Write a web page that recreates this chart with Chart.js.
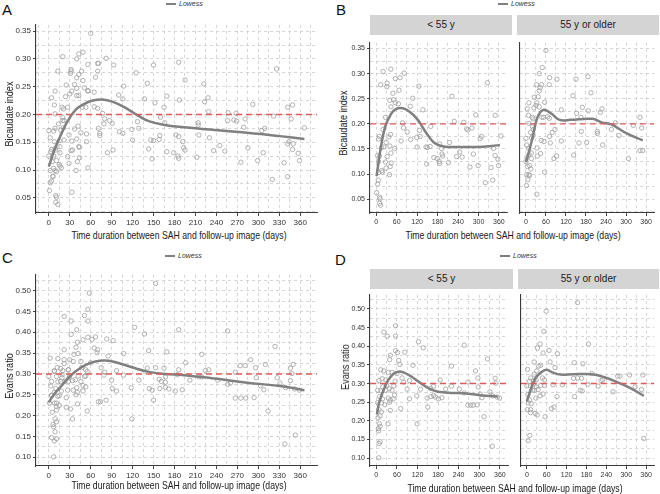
<!DOCTYPE html>
<html>
<head>
<meta charset="utf-8">
<script src="https://cdn.jsdelivr.net/npm/chart.js@4.4.0/dist/chart.umd.min.js"></script>
<style>
body { margin: 0; background: #fff; }
#fig { position: relative; width: 660px; height: 494px; overflow: hidden; font-family: "Liberation Sans", Arial, sans-serif; }
#fig canvas { position: absolute; }
.letter { position: absolute; font-size: 15px; line-height: 14px; color: #111; }
.legend { position: absolute; font-size: 7px; line-height: 8px; font-style: italic; color: #333; white-space: nowrap; }
.legend b { display: inline-block; width: 10px; height: 2px; background: #808080; vertical-align: middle; margin-right: 3px; }
.strip { position: absolute; height: 20px; line-height: 20px; background: #d4d4d4; color: #1a1a1a; font-size: 10px; text-align: center; }
.ttl { position: absolute; font-size: 11px; line-height: 12px; color: #1a1a1a; white-space: nowrap; }
</style>
</head>
<body>
<div id="fig">
  <div class="letter" style="left:2px;top:3px">A</div>
  <div class="letter" style="left:336px;top:3px">B</div>
  <div class="letter" style="left:2px;top:251px">C</div>
  <div class="letter" style="left:335px;top:253px">D</div>

  <div class="legend" style="left:166px;top:0px"><b></b>Lowess</div>
  <div class="legend" style="left:498px;top:0px"><b></b>Lowess</div>
  <div class="legend" style="left:165px;top:252px"><b></b>Lowess</div>
  <div class="legend" style="left:500px;top:252px"><b></b>Lowess</div>

  <div class="strip" style="left:370px;top:15px;width:142px">&lt; 55 y</div>
  <div class="strip" style="left:517px;top:15px;width:142px">55 y or older</div>
  <div class="strip" style="left:370px;top:269px;width:143px">&lt; 55 y</div>
  <div class="strip" style="left:518px;top:269px;width:141px">55 y or older</div>

  <canvas id="chartA"></canvas>
  <canvas id="chartB1"></canvas>
  <canvas id="chartB2"></canvas>
  <canvas id="chartC"></canvas>
  <canvas id="chartD1"></canvas>
  <canvas id="chartD2"></canvas>

  <div class="ttl" id="xA">Time duration between SAH and follow-up image (days)</div>
  <div class="ttl" id="xB">Time duration between SAH and follow-up image (days)</div>
  <div class="ttl" id="xC">Time duration between SAH and follow-up image (days)</div>
  <div class="ttl" id="xD">Time duration between SAH and follow-up image (days)</div>
  <div class="ttl" id="yA">Bicaudate index</div>
  <div class="ttl" id="yB">Bicaudate index</div>
  <div class="ttl" id="yC">Evans ratio</div>
  <div class="ttl" id="yD">Evans ratio</div>
</div>

<script>
// reference lines and axis ticks
var bicaudateRef = 0.2;
var evansRef = 0.3;
var dayRange = [-18.3, 384.3];
var bicaudateRange = [0.0226, 0.3614];
var evansRange = [0.079, 0.538];

var daysMajor = [0, 30, 60, 90, 120, 150, 180, 210, 240, 270, 300, 330, 360];
var daysMinor = [-15, 15, 45, 75, 105, 135, 165, 195, 225, 255, 285, 315, 345, 375];
var daysMajorFacet = [0, 60, 120, 180, 240, 300, 360];
var daysMinorFacet = [30, 90, 150, 210, 270, 330];
var bicaudateMajor = [0.05, 0.10, 0.15, 0.20, 0.25, 0.30, 0.35];
var bicaudateMinor = [0.025, 0.075, 0.125, 0.175, 0.225, 0.275, 0.325];
var evansMajor = [0.10, 0.15, 0.20, 0.25, 0.30, 0.35, 0.40, 0.45, 0.50];
var evansMinor = [0.125, 0.175, 0.225, 0.275, 0.325, 0.375, 0.425, 0.475, 0.525];

// [days, value] for patients < 55 y
var bicaudateYoung = [
  [20,0.304],[43,0.309],[13,0.278],[32,0.281],[31,0.274],[56,0.290],[70,0.292],[82,0.301],[49,0.261],[67,0.267],
  [40,0.247],[51,0.248],[56,0.242],[65,0.240],[43,0.234],[100,0.235],[107,0.251],[125,0.275],[137,0.228],[27,0.213],
  [77,0.202],[80,0.192],[91,0.184],[73,0.166],[101,0.169],[119,0.173],[129,0.175],[127,0.187],[160,0.195],[20,0.189],
  [9,0.175],[7,0.170],[42,0.179],[37,0.174],[29,0.163],[15,0.153],[22,0.154],[40,0.156],[54,0.151],[4,0.137],
  [10,0.136],[32,0.135],[43,0.142],[7,0.125],[27,0.124],[44,0.122],[29,0.112],[16,0.107],[7,0.103],[18,0.104],
  [41,0.115],[39,0.099],[6,0.088],[4,0.080],[1,0.063],[10,0.054],[11,0.051],[10,0.042],[13,0.038],[120,0.154],
  [146,0.154],[150,0.153],[158,0.155],[169,0.133],[148,0.120],[179,0.131],[186,0.160],[192,0.151],[193,0.140],[185,0.125],
  [195,0.136],[186,0.121],[212,0.123],[215,0.163],[222,0.255],[229,0.205],[236,0.135],[245,0.144],[252,0.134],[257,0.203],
  [265,0.190],[269,0.188],[281,0.192],[292,0.218],[285,0.140],[275,0.114],[299,0.117],[305,0.171],[309,0.175],[320,0.083],
  [326,0.282],[337,0.113],[342,0.088],[349,0.217],[344,0.151],[349,0.137],[357,0.130],[359,0.117],[366,0.176]
];
// [days, value] for patients 55 y or older
var bicaudateOld = [
  [60,0.346],[49,0.312],[40,0.300],[71,0.292],[93,0.289],[32,0.278],[47,0.278],[70,0.278],[43,0.272],[40,0.266],
  [25,0.253],[37,0.254],[9,0.242],[33,0.242],[56,0.243],[24,0.232],[40,0.234],[4,0.230],[8,0.217],[19,0.213],
  [21,0.210],[53,0.213],[65,0.214],[70,0.211],[106,0.228],[150,0.289],[141,0.256],[186,0.294],[195,0.262],[152,0.221],
  [169,0.233],[187,0.226],[223,0.223],[228,0.230],[165,0.213],[9,0.201],[22,0.189],[14,0.183],[21,0.176],[17,0.172],
  [0,0.171],[87,0.189],[79,0.183],[71,0.175],[46,0.167],[54,0.165],[73,0.162],[106,0.166],[166,0.185],[214,0.185],
  [214,0.181],[159,0.162],[182,0.163],[230,0.158],[256,0.189],[268,0.202],[279,0.177],[322,0.197],[342,0.213],[347,0.192],
  [143,0.138],[2,0.158],[8,0.151],[33,0.152],[16,0.142],[9,0.139],[3,0.133],[0,0.125],[5,0.115],[11,0.117],
  [15,0.110],[9,0.099],[11,0.097],[2,0.099],[6,0.089],[2,0.077],[34,0.136],[44,0.141],[84,0.131],[92,0.136],
  [56,0.104],[33,0.060],[307,0.131],[342,0.147],[350,0.147],[16,0.131],[20,0.194],[48,0.213],[30,0.237]
];
var evansYoung = [
  [56,0.455],[22,0.438],[32,0.427],[56,0.427],[123,0.412],[137,0.396],[56,0.388],[62,0.383],[83,0.384],[41,0.376],
  [39,0.364],[65,0.362],[69,0.351],[107,0.349],[219,0.347],[256,0.403],[324,0.366],[289,0.334],[13,0.337],[22,0.334],
  [35,0.330],[46,0.330],[60,0.327],[75,0.315],[55,0.306],[17,0.313],[8,0.308],[28,0.310],[80,0.304],[97,0.308],
  [186,0.310],[267,0.304],[296,0.315],[346,0.314],[348,0.301],[4,0.282],[13,0.281],[19,0.291],[28,0.282],[30,0.295],
  [38,0.286],[46,0.282],[51,0.294],[90,0.285],[53,0.269],[97,0.259],[118,0.267],[129,0.285],[158,0.287],[167,0.293],
  [148,0.261],[159,0.265],[167,0.268],[172,0.264],[181,0.259],[191,0.262],[202,0.285],[219,0.293],[242,0.285],[256,0.275],
  [267,0.242],[275,0.242],[282,0.242],[303,0.272],[294,0.243],[308,0.262],[331,0.278],[339,0.267],[352,0.264],[359,0.261],
  [297,0.291],[150,0.237],[10,0.265],[18,0.259],[35,0.261],[41,0.256],[49,0.259],[4,0.249],[15,0.248],[25,0.243],
  [39,0.250],[8,0.230],[15,0.224],[11,0.213],[5,0.208],[71,0.233],[41,0.228],[9,0.192],[11,0.185],[6,0.179],
  [7,0.173],[34,0.192],[11,0.144],[8,0.139],[7,0.101],[119,0.192],[314,0.211],[338,0.132]
];
var evansOld = [
  [153,0.517],[58,0.494],[51,0.440],[40,0.406],[32,0.395],[67,0.389],[49,0.382],[92,0.380],[22,0.358],[70,0.358],
  [36,0.347],[42,0.349],[30,0.334],[2,0.338],[85,0.343],[143,0.356],[169,0.353],[186,0.406],[141,0.314],[153,0.315],
  [165,0.314],[196,0.327],[229,0.310],[224,0.308],[274,0.320],[281,0.320],[310,0.323],[350,0.323],[107,0.297],[184,0.298],
  [215,0.293],[22,0.325],[12,0.315],[47,0.315],[53,0.310],[8,0.306],[20,0.308],[28,0.310],[0,0.294],[11,0.294],
  [19,0.298],[29,0.291],[42,0.295],[53,0.295],[79,0.297],[3,0.271],[17,0.282],[23,0.282],[34,0.284],[49,0.272],
  [40,0.267],[27,0.261],[8,0.256],[4,0.248],[13,0.246],[11,0.230],[1,0.230],[11,0.222],[25,0.220],[31,0.216],
  [55,0.211],[74,0.233],[82,0.237],[91,0.265],[144,0.265],[161,0.282],[167,0.280],[260,0.278],[327,0.291],[346,0.284],
  [353,0.153],[9,0.161],[4,0.147]
];

// lowess curves
var lowessBicaudateAll = [[0,0.106],[8,0.136],[18,0.165],[27,0.188],[39,0.209],[51,0.219],[63,0.225],[77,0.227],[91,0.223],[110,0.212],[129,0.197],[143,0.188],[166,0.181],[194,0.177],[237,0.172],[284,0.167],[331,0.161],[366,0.156]];
var lowessBicaudateYoung = [[1,0.096],[13,0.151],[27,0.196],[42,0.218],[56,0.229],[78,0.231],[98,0.224],[122,0.208],[146,0.183],[169,0.163],[198,0.155],[236,0.154],[292,0.154],[340,0.156],[363,0.158]];
var lowessBicaudateOld = [[0,0.124],[9,0.144],[21,0.176],[32,0.208],[44,0.224],[56,0.228],[77,0.220],[101,0.208],[134,0.208],[199,0.210],[227,0.203],[256,0.199],[302,0.181],[350,0.167]];
var lowessEvansAll = [[0,0.232],[8,0.252],[18,0.271],[27,0.289],[39,0.307],[53,0.322],[67,0.330],[81,0.332],[96,0.328],[119,0.316],[143,0.305],[166,0.300],[194,0.297],[237,0.289],[284,0.279],[331,0.271],[366,0.261]];
var lowessEvansYoung = [[2,0.217],[8,0.248],[21,0.282],[34,0.308],[51,0.327],[65,0.332],[79,0.330],[102,0.319],[125,0.304],[153,0.287],[181,0.278],[219,0.275],[256,0.274],[303,0.269],[354,0.265]];
var lowessEvansOld = [[0,0.252],[11,0.282],[25,0.313],[39,0.327],[58,0.337],[77,0.330],[101,0.324],[139,0.325],[196,0.325],[234,0.317],[272,0.304],[310,0.289],[353,0.267]];

function toXY(list) {
    return list.map(function (p) { return {x: p[0], y: p[1]}; });
}

function axisOptions(range, majors, minors, size, showLabels, fontSize, fmt) {
    var all = majors.map(function (v) { return {value: v}; })
        .concat(minors.map(function (v) { return {value: v, minor: true}; }))
        .sort(function (a, b) { return a.value - b.value; });
    return {
        type: 'linear',
        min: range[0],
        max: range[1],
        afterBuildTicks: function (axis) {
            axis.ticks = all.map(function (t) { return {value: t.value, minor: t.minor}; });
        },
        afterFit: function (axis) {
            if (axis.isHorizontal()) axis.height = size; else axis.width = size;
            axis.paddingLeft = 0; axis.paddingRight = 0; axis.paddingTop = 0; axis.paddingBottom = 0;
        },
        grid: {
            color: '#cccccc',
            lineWidth: 0.8,
            drawTicks: showLabels,
            tickLength: 3,
            tickWidth: 1,
            tickBorderDash: [],
            tickColor: function (ctx) { return ctx.tick && ctx.tick.minor ? 'rgba(0,0,0,0)' : '#444'; }
        },
        border: { display: true, color: '#3a3a3a', width: 1.1, dash: [3, 3] },
        ticks: {
            display: showLabels,
            autoSkip: false,
            maxRotation: 0,
            padding: 2,
            color: '#333',
            font: { size: fontSize },
            callback: function (value, i, ticks) { return ticks[i].minor ? '' : fmt(value); }
        }
    };
}

function drawPanel(id, box, points, lowess, ref, yRange, yMajor, yMinor, xMajor, xMinor, showY, fontSize) {
    var cv = document.getElementById(id);
    cv.width = box.yW + box.r - box.l;
    cv.height = box.b - box.t + box.xH;
    cv.style.left = (box.l - box.yW) + 'px';
    cv.style.top = box.t + 'px';

    new Chart(cv, {
        type: 'scatter',
        data: {
            datasets: [{
                data: [{x: dayRange[0], y: ref}, {x: dayRange[1], y: ref}],
                showLine: true, order: 0,
                borderColor: '#e05a5a', borderWidth: 1.4, borderDash: [6, 4], pointRadius: 0
            }, {
                data: toXY(lowess),
                showLine: true, order: 1,
                borderColor: '#808080', borderWidth: 2.5, pointRadius: 0,
                tension: 0.4
            }, {
                data: toXY(points),
                order: 2,
                pointRadius: 2.2, pointBorderWidth: 0.8,
                pointBorderColor: '#a0a0a0', pointBackgroundColor: 'rgba(0,0,0,0)'
            }]
        },
        options: {
            responsive: false,
            animation: false,
            events: [],
            layout: { padding: 0 },
            plugins: { legend: { display: false }, tooltip: { enabled: false } },
            scales: {
                x: axisOptions(dayRange, xMajor, xMinor, box.xH, true, fontSize, function (v) { return String(v); }),
                y: axisOptions(yRange, yMajor, yMinor, box.yW, showY, fontSize, function (v) { return v.toFixed(2); })
            }
        }
    });
}

function placeTitle(id, cx, cy, rotate, squeeze) {
    var el = document.getElementById(id);
    el.style.left = cx + 'px';
    el.style.top = cy + 'px';
    el.style.transform = 'translate(-50%,-50%)' + (rotate ? ' rotate(-90deg)' : '') + ' scaleX(' + squeeze + ')';
}

Chart.defaults.font.family = '"Liberation Sans", Arial, sans-serif';

drawPanel('chartA', {l: 36, t: 20, r: 322, b: 213, yW: 36, xH: 16},
    bicaudateYoung.concat(bicaudateOld), lowessBicaudateAll, bicaudateRef,
    bicaudateRange, bicaudateMajor, bicaudateMinor, daysMajor, daysMinor, true, 8);
drawPanel('chartB1', {l: 370, t: 38, r: 512, b: 213, yW: 21, xH: 14},
    bicaudateYoung, lowessBicaudateYoung, bicaudateRef,
    bicaudateRange, bicaudateMajor, bicaudateMinor, daysMajorFacet, daysMinorFacet, true, 7);
drawPanel('chartB2', {l: 517, t: 38, r: 659, b: 213, yW: 2, xH: 14},
    bicaudateOld, lowessBicaudateOld, bicaudateRef,
    bicaudateRange, bicaudateMajor, bicaudateMinor, daysMajorFacet, daysMinorFacet, false, 7);
drawPanel('chartC', {l: 36, t: 270, r: 322, b: 466, yW: 36, xH: 16},
    evansYoung.concat(evansOld), lowessEvansAll, evansRef,
    evansRange, evansMajor, evansMinor, daysMajor, daysMinor, true, 8);
drawPanel('chartD1', {l: 370, t: 290, r: 513, b: 466, yW: 20, xH: 14},
    evansYoung, lowessEvansYoung, evansRef,
    evansRange, evansMajor, evansMinor, daysMajorFacet, daysMinorFacet, true, 7);
drawPanel('chartD2', {l: 518, t: 290, r: 659, b: 466, yW: 2, xH: 14},
    evansOld, lowessEvansOld, evansRef,
    evansRange, evansMajor, evansMinor, daysMajorFacet, daysMinorFacet, false, 7);

placeTitle('xA', 179, 235, false, 0.79);
placeTitle('xB', 513, 235, false, 0.79);
placeTitle('xC', 179, 485, false, 0.79);
placeTitle('xD', 515, 488, false, 0.79);
placeTitle('yA', 9, 114, true, 0.83);
placeTitle('yB', 343, 123, true, 0.83);
placeTitle('yC', 9, 376, true, 0.83);
placeTitle('yD', 345, 367, true, 0.83);
</script>
</body>
</html>
